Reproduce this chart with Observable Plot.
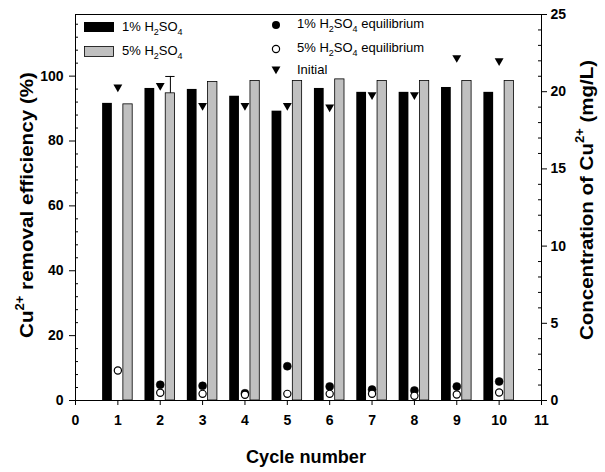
<!DOCTYPE html>
<html>
<head>
<meta charset="utf-8">
<script src="https://cdn.jsdelivr.net/npm/d3@7"></script>
<script src="https://cdn.jsdelivr.net/npm/@observablehq/plot@0.6"></script>
<style>
  html, body { margin: 0; padding: 0; background: #fff; }
  #chart { width: 605px; height: 472px; }
</style>
</head>
<body>
<div id="chart"></div>
<script>
// ---- data ----
const cycles = [1, 2, 3, 4, 5, 6, 7, 8, 9, 10];
const eff1 = [91.6, 96.2, 95.9, 93.8, 89.2, 96.2, 95.0, 95.0, 96.5, 95.0];   // 1% H2SO4 removal efficiency (%)
const eff5 = [91.3, 94.7, 98.2, 98.5, 98.5, 99.0, 98.5, 98.5, 98.5, 98.5];   // 5% H2SO4 removal efficiency (%)
const err5 = [0, 5.2, 0, 0, 0, 0, 0, 0, 0, 0];                               // error bar on 5% series
const eq1 = [null, 1.02, 0.95, 0.47, 2.22, 0.91, 0.71, 0.65, 0.91, 1.23];    // 1% equilibrium Cu2+ (mg/L)
const eq5 = [1.94, 0.50, 0.43, 0.37, 0.43, 0.43, 0.43, 0.30, 0.39, 0.52];    // 5% equilibrium Cu2+ (mg/L)
const initial = [20.3, 20.4, 19.1, 19.1, 19.1, 19.0, 19.8, 19.8, 22.2, 22.0]; // initial Cu2+ (mg/L)

const xTicks = [0, 1, 2, 3, 4, 5, 6, 7, 8, 9, 10, 11];
const leftTicks = [0, 20, 40, 60, 80, 100];
const leftMinor = d3.range(0, 119, 4).filter(v => v % 20 !== 0);
const rightTicks = [0, 5, 10, 15, 20, 25];
const rightMinor = d3.range(0, 26, 1).filter(v => v % 5 !== 0);

const leftMax = 119, rightMax = 25;
const k = leftMax / rightMax; // right-axis units -> left-axis units

const rows = cycles.map((c, i) => ({
  c, e1: eff1[i], e5: eff5[i], err: err5[i], q1: eq1[i], q5: eq5[i], ini: initial[i]
}));

const font = "'Liberation Sans', Arial, sans-serif";

const chart = Plot.plot({
  width: 605,
  height: 472,
  marginLeft: 75,
  marginRight: 64,
  marginTop: 14,
  marginBottom: 72,
  x: { domain: [0, 11] },
  y: { domain: [0, leftMax] },
  style: { fontFamily: font, fontSize: "14px", fontWeight: "bold", color: "black", background: "white", overflow: "visible" },
  marks: [
    Plot.rectY(rows, { x1: d => d.c - 0.36, x2: d => d.c - 0.13, y1: 0, y2: "e1", fill: "black" }),
    Plot.rectY(rows, { x1: d => d.c + 0.13, x2: d => d.c + 0.35, y1: 0, y2: "e5", fill: "#c0c0c0", stroke: "black", strokeWidth: 0.8 }),
    Plot.ruleX(rows.filter(d => d.err > 0), { x: d => d.c + 0.24, y1: "e5", y2: d => d.e5 + d.err, stroke: "black" }),
    Plot.ruleY(rows.filter(d => d.err > 0), { y: d => d.e5 + d.err, x1: d => d.c + 0.13, x2: d => d.c + 0.35, stroke: "black" }),
    Plot.dot(rows.filter(d => d.q1 != null), { x: "c", y: d => d.q1 * k, r: 4, fill: "black", stroke: "black", strokeWidth: 0.5 }),
    Plot.dot(rows, { x: "c", y: d => d.q5 * k, r: 3.6, fill: "white", stroke: "black", strokeWidth: 1.2 }),
    Plot.dot(rows, { x: "c", y: d => d.ini * k, symbol: "triangle", rotate: 180, r: 3.3, fill: "black" }),
    Plot.frame({ stroke: "black" }),
    Plot.axisX({ ticks: xTicks, tickSize: 5, tickPadding: 10, tickFormat: d => d, label: null }),
    Plot.axisY({ anchor: "left", ticks: leftTicks, tickSize: 6, tickPadding: 6, tickFormat: d => d, label: null }),
    Plot.axisY({ anchor: "left", ticks: leftMinor, tickSize: -3, tickFormat: () => "", label: null }),
    Plot.axisY({ anchor: "right", ticks: rightTicks.map(v => v * k), tickSize: 5, tickPadding: 4, tickFormat: v => Math.round(v / k), label: null }),
    Plot.axisY({ anchor: "right", ticks: rightMinor.map(v => v * k), tickSize: -4, tickFormat: () => "", label: null })
  ]
});

document.getElementById("chart").appendChild(chart);

const svg = d3.select(chart);

// helper to write text with sub/superscripts
function rich(sel, parts, size) {
  let shift = 0;
  parts.forEach(([t, kind]) => {
    const ts = sel.append("tspan").text(t);
    let target = 0;
    if (kind === "sub") { target = Math.round(size * 0.3); ts.attr("font-size", Math.round(size * 0.7)); }
    if (kind === "sup") { target = -Math.round(size * 0.45); ts.attr("font-size", Math.round(size * 0.65)); }
    if (target !== shift) ts.attr("dy", target - shift);
    shift = target;
  });
}

// axis titles
svg.append("text")
  .attr("x", 306).attr("y", 463)
  .attr("text-anchor", "middle")
  .attr("font-family", font).attr("font-weight", "bold").attr("font-size", 19)
  .attr("textLength", 120).attr("lengthAdjust", "spacingAndGlyphs")
  .text("Cycle number");

const lt = svg.append("text")
  .attr("transform", "translate(33,205) rotate(-90)")
  .attr("text-anchor", "middle")
  .attr("font-family", font).attr("font-weight", "bold").attr("font-size", 19)
  .attr("textLength", 266).attr("lengthAdjust", "spacingAndGlyphs")
  .style("white-space", "pre");
rich(lt, [["Cu"], ["2+", "sup"], [" removal efficiency (%)"]], 19);

const rt = svg.append("text")
  .attr("transform", "translate(593,200) rotate(-90)")
  .attr("text-anchor", "middle")
  .attr("font-family", font).attr("font-weight", "bold").attr("font-size", 19)
  .attr("textLength", 280).attr("lengthAdjust", "spacingAndGlyphs")
  .style("white-space", "pre");
rich(rt, [["Concentration of Cu"], ["2+", "sup"], [" (mg/L)"]], 19);

// legend
const lg = svg.append("g").attr("font-family", font).attr("font-size", 13).attr("font-weight", "normal")
  .attr("text-anchor", "start").style("white-space", "pre");
lg.append("rect").attr("x", 84).attr("y", 22).attr("width", 30).attr("height", 10).attr("fill", "black");
lg.append("rect").attr("x", 84.5).attr("y", 46.5).attr("width", 29).attr("height", 10).attr("fill", "#c0c0c0").attr("stroke", "black").attr("stroke-width", 0.8);
rich(lg.append("text").attr("x", 122).attr("y", 31), [["1% H"], ["2", "sub"], ["SO"], ["4", "sub"]], 13);
rich(lg.append("text").attr("x", 122).attr("y", 55), [["5% H"], ["2", "sub"], ["SO"], ["4", "sub"]], 13);

lg.append("circle").attr("cx", 276).attr("cy", 25).attr("r", 4).attr("fill", "black");
lg.append("circle").attr("cx", 276).attr("cy", 49).attr("r", 3.6).attr("fill", "white").attr("stroke", "black").attr("stroke-width", 1.2);
lg.append("path").attr("transform", "translate(276,69) rotate(180)")
  .attr("d", d3.symbol(d3.symbolTriangle, Math.PI * 3.3 * 3.3)()).attr("fill", "black");
rich(lg.append("text").attr("x", 297).attr("y", 28), [["1% H"], ["2", "sub"], ["SO"], ["4", "sub"], [" equilibrium"]], 13);
rich(lg.append("text").attr("x", 297).attr("y", 52), [["5% H"], ["2", "sub"], ["SO"], ["4", "sub"], [" equilibrium"]], 13);
lg.append("text").attr("x", 297).attr("y", 74).text("Initial");
</script>
</body>
</html>
